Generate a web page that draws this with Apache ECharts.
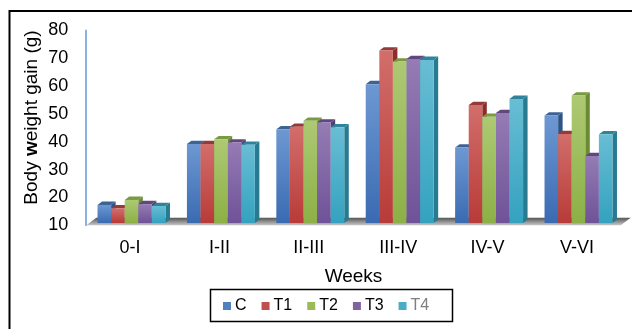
<!DOCTYPE html>
<html>
<head>
<meta charset="utf-8">
<script src="https://cdn.jsdelivr.net/npm/echarts@6/dist/echarts.min.js"></script>
<style>
html,body{margin:0;padding:0;background:#fff;}
#chart{width:632px;height:329px;}
</style>
</head>
<body>
<div id="chart"></div>
<script>
// ---- data ----
const categories = ['0-I', 'I-II', 'II-III', 'III-IV', 'IV-V', 'V-VI'];
const seriesNames = ['C', 'T1', 'T2', 'T3', 'T4'];
const valuesC  = [16.5, 38.4, 43.7, 59.9, 37.1, 48.6];
const valuesT1 = [15.3, 38.4, 44.6, 72.0, 52.4, 42.0];
const valuesT2 = [18.3, 40.1, 46.7, 68.0, 48.2, 55.8];
const valuesT3 = [16.8, 38.9, 46.1, 68.9, 49.5, 34.1];
const valuesT4 = [16.1, 38.1, 44.4, 68.6, 54.6, 41.9];
const yMin = 10, yMax = 80, yStep = 10;

const allValues = [valuesC, valuesT1, valuesT2, valuesT3, valuesT4];

// ---- styles ----
const FONT = 'Liberation Sans, Arial, sans-serif';
const palette = [
  {base:'#4F81BD', top:'#6d98d2', bottom:'#3a6ab2', cap:'#3d6294', side:'#2d5486'},
  {base:'#C0504D', top:'#d26e6b', bottom:'#b83b38', cap:'#963a37', side:'#8a2e2c'},
  {base:'#9BBB59', top:'#adc973', bottom:'#8cb046', cap:'#789a40', side:'#6a8a34'},
  {base:'#8064A2', top:'#957cb4', bottom:'#6f5298', cap:'#60487e', side:'#553f72'},
  {base:'#4BACC6', top:'#68bdd4', bottom:'#34a2bf', cap:'#2f849b', side:'#277a90'}
];
const DX = 4.5, DY = 3.3, OY = -2.3, SX = 1.5, GROUP_FRAC = 0.76;

function makeRender(s) {
  const c = palette[s];
  return function (params, api) {
    const cat = api.value(0), val = api.value(1);
    const base = api.coord([cat, yMin]);
    const top = api.coord([cat, val]);
    const band = api.size([1, 0])[0];
    const groupW = band * GROUP_FRAC;
    const bw = groupW / 5;
    const x0 = base[0] - groupW / 2 + s * bw + SX;
    const yt = top[1] + OY, yb = base[1] + OY;
    return {
      type: 'group',
      children: [
        {type:'polygon', shape:{points:[[x0+bw,yt],[x0+bw+DX,yt-DY],[x0+bw+DX,yb-DY],[x0+bw,yb]]},
         style:{fill:c.side}},
        {type:'polygon', shape:{points:[[x0,yt],[x0+DX,yt-DY],[x0+bw+DX,yt-DY],[x0+bw,yt]]},
         style:{fill:c.cap}},
        {type:'rect', shape:{x:x0, y:yt, width:bw, height:yb-yt},
         style:{fill:new echarts.graphic.LinearGradient(0,0,0,1,[{offset:0,color:c.top},{offset:1,color:c.bottom}])}}
      ]
    };
  };
}

const series = [{
  type:'custom', name:'floor', silent:true, z:1,
  data:[[0, yMin]],
  encode:{x:0, y:1},
  renderItem: function (params, api) {
    const cs = params.coordSys;
    const b = cs.y + cs.height, x = cs.x, r = cs.x + cs.width;
    return {type:'polygon', shape:{points:[[x+1,b],[x+11,b-7.5],[r+9,b-7.5],[r-1,b]]},
      style:{fill:new echarts.graphic.LinearGradient(0,0,0,1,[{offset:0,color:'#555555'},{offset:1,color:'#c8c8c8'}])}};
  }
}];
seriesNames.forEach((n, s) => {
  series.push({
    type:'custom', name:n, z:2,
    itemStyle:{color:palette[s].base},
    data: categories.map((c, i) => [i, allValues[s][i]]),
    encode:{x:0, y:1},
    renderItem: makeRender(s)
  });
});

const chart = echarts.init(document.getElementById('chart'), null, {renderer:'canvas'});
chart.setOption({
  animation:false,
  backgroundColor:'#ffffff',
  grid:{left:85.3, top:30.5, width:536.4, height:194.8},
  xAxis:{
    type:'category', data:categories,
    axisLine:{show:false}, axisTick:{show:false},
    axisLabel:{color:'#000', fontSize:18, fontFamily:FONT, margin:14},
    name:'Weeks', nameLocation:'middle', nameGap:42,
    nameTextStyle:{color:'#000', fontSize:19, fontFamily:FONT}
  },
  yAxis:{
    type:'value', min:yMin, max:yMax, interval:yStep,
    splitLine:{show:false}, axisTick:{show:false},
    axisLine:{show:true, lineStyle:{color:'#8cb2e0', width:2}},
    axisLabel:{color:'#000', fontSize:18, fontFamily:FONT, margin:17}
  },
  legend:{
    data: seriesNames.map(n => n === 'T4' ? {name:n, textStyle:{color:'#7f7f7f'}} : {name:n}),
    left:223, top:298, padding:0, itemGap:15, itemWidth:8, itemHeight:8,
    icon:'rect', selectedMode:false,
    textStyle:{color:'#000', fontSize:16, fontFamily:FONT, padding:[0,0,0,-1]}
  },
  graphic:[
    {type:'rect', shape:{x:9.5, y:11, width:700, height:400}, style:{fill:null, stroke:'#000', lineWidth:2}, z:-10, silent:true},
    {type:'rect', shape:{x:210.5, y:289.5, width:242, height:32}, style:{fill:null, stroke:'#000', lineWidth:1.5}, silent:true},
    {type:'text', x:32, y:117.5, rotation:Math.PI/2, silent:true,
     style:{text:'{a|Body }{b|w}{a|eight gain (g)}', align:'center', verticalAlign:'middle',
       rich:{a:{fontSize:19, fontFamily:FONT, fill:'#000'}, b:{fontSize:19, fontFamily:FONT, fontWeight:'bold', fill:'#000'}}}}
  ],
  series: series
});
</script>
</body>
</html>
